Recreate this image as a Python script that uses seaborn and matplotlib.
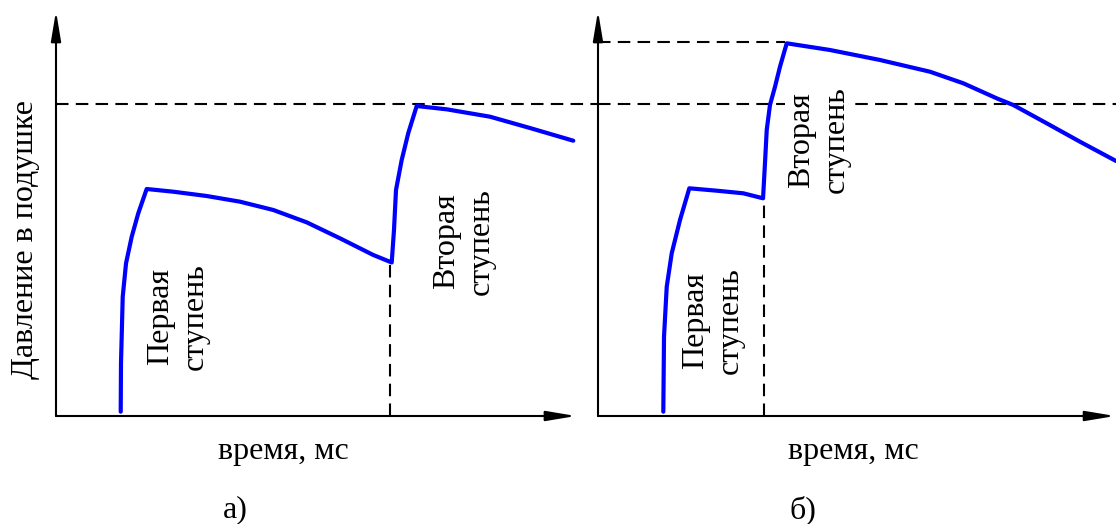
import pandas as pd
import seaborn as sns
import matplotlib.pyplot as plt

# Panel a) - pressure curve, two stages fired with a long delay
time_a = [11.94, 11.99, 12.31, 12.92, 13.97, 15.18, 16.73,
          21.64, 27.80, 33.95, 40.09, 46.25, 52.40, 58.54, 61.94,
          62.36, 62.73, 63.78, 65.0, 66.55,
          72.08, 80.07, 87.45, 95.44]
press_a = [1.07, 13.08, 29.60, 37.89, 44.49, 50.30, 56.33,
           55.66, 54.59, 53.18, 51.12, 48.06, 44.09, 39.95, 38.09,
           46.15, 56.08, 63.52, 70.22, 76.92,
           76.10, 74.27, 71.46, 68.31]

# Panel б) - second stage fired early
time_b = [12.05, 12.18, 12.68, 13.60, 15.13, 16.85, 21.90, 26.81, 30.45,
          30.81, 31.13, 31.73, 32.66, 33.58, 34.82,
          42.80, 52.03, 61.25, 67.40, 73.56, 76.62, 82.79, 88.93, 95.57]
press_b = [1.07, 19.68, 32.08, 40.37, 48.64, 56.50, 55.91, 55.26, 54.02,
           62.78, 70.97, 77.17, 81.71, 86.68, 92.48,
           90.82, 88.34, 85.43, 82.56, 78.83, 77.17, 72.63, 68.06, 63.28]

# reference levels
level_common = 77.4      # dashed line across both panels
level_peak_b = 92.7      # peak of panel б)
stage2_start_a = (61.7, 38.0)
stage2_start_b = (30.6, 54.0)

xlabel = 'время, мс'
ylabel = 'Давление в подушке'
stage1 = 'Первая\nступень'
stage2 = 'Вторая\nступень'
panel_labels = ['а)', 'б)']

sns.set_style('white')
plt.rcParams['font.family'] = ['Liberation Serif', 'DejaVu Serif']
plt.rcParams['text.color'] = 'black'

fig = plt.figure(figsize=(11.16, 5.24), dpi=100)
bottom = 1 - 416 / 524
height = 403 / 524
ax_a = fig.add_axes([56 / 1116, bottom, 542 / 1116, height])
ax_b = fig.add_axes([598 / 1116, bottom, 518 / 1116, height])
ax_a.set_xlim(0, 100)
ax_b.set_xlim(0, 518 / 5.42)

df_a = pd.DataFrame({'t': time_a, 'p': press_a})
df_b = pd.DataFrame({'t': time_b, 'p': press_b})

dash = (0, (6, 3.5))
fs = 23

for ax, df, xend, lab, xl_x, pl_x in [(ax_a, df_a, 95.94, panel_labels[0], 41.9, 33.0),
                                      (ax_b, df_b, 95.4, panel_labels[1], 47.2, 37.8)]:
    ax.set_ylim(0, 100)
    ax.axis('off')
    sns.lineplot(data=df, x='t', y='p', ax=ax, sort=False, estimator=None,
                 color='#0000ff', linewidth=3, clip_on=False)
    arrow = dict(arrowstyle='-|>,head_length=1.8,head_width=0.3',
                 color='black', lw=1.5, mutation_scale=10, shrinkA=0, shrinkB=0)
    ax.annotate('', xy=(0, 100.5), xytext=(0, 0), arrowprops=arrow, annotation_clip=False)
    ax.annotate('', xy=(xend, 0), xytext=(0, 0), arrowprops=arrow, annotation_clip=False)
    ax.plot([0, ax.get_xlim()[1]], [level_common, level_common], color='black',
            lw=1.5, linestyle=dash, clip_on=False, zorder=1)
    ax.text(xl_x, -8.9, xlabel, ha='center', va='center', fontsize=fs, clip_on=False)
    ax.text(pl_x, -23.3, lab, ha='center', va='center', fontsize=fs, clip_on=False)

# vertical marks for the second stage firing
ax_a.plot([stage2_start_a[0]] * 2, [0, stage2_start_a[1]], color='black', lw=1.5,
          linestyle=dash, zorder=1)
ax_b.plot([stage2_start_b[0]] * 2, [0, stage2_start_b[1]], color='black', lw=1.5,
          linestyle=dash, zorder=1)
ax_b.plot([0, 34.5], [level_peak_b, level_peak_b], color='black', lw=1.5,
          linestyle=dash, zorder=1)

ax_a.text(-5.7, 43.7, ylabel, rotation=90, ha='center', va='center', fontsize=fs,
          clip_on=False)

txt = dict(rotation=90, ha='center', va='center', fontsize=fs, linespacing=1.25,
           multialignment='center')
ax_a.text(22.5, 24.6, stage1, **txt)
ax_a.text(75.3, 43.4, stage2, **txt)
ax_b.text(21.2, 23.6, stage1, **txt)
ax_b.text(40.8, 68.5, stage2, zorder=3,
          bbox=dict(facecolor='white', edgecolor='none', pad=2), **txt)

fig.savefig('out.png', dpi=100)
